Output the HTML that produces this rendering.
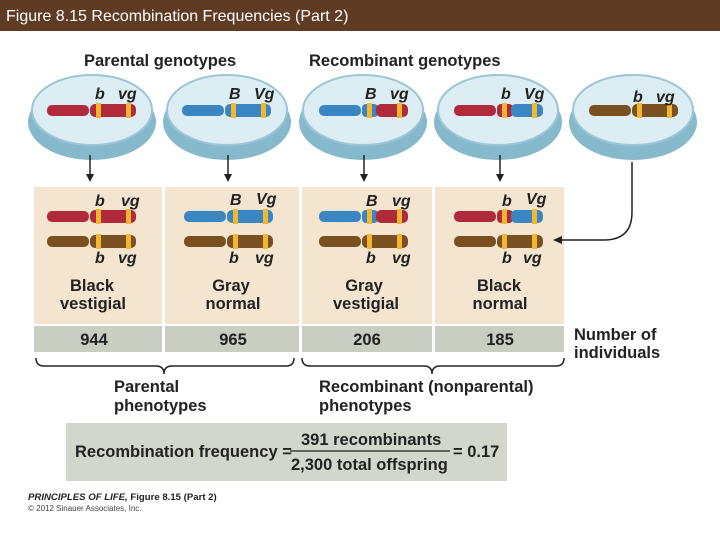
<!DOCTYPE html>
<html><head><meta charset="utf-8"><style>
html,body{margin:0;padding:0;background:#fff}
svg{display:block;font-family:"Liberation Sans",Arial,sans-serif}
</style></head><body>
<svg width="720" height="540" viewBox="0 0 720 540" xmlns="http://www.w3.org/2000/svg">
<rect x="0" y="0" width="720" height="31" fill="#5e3b22"/>
<text x="6" y="21" font-size="16" fill="#fff">Figure 8.15  Recombination Frequencies (Part 2)</text>
<g font-weight="bold" font-size="16.5" fill="#222">
<text x="84" y="66">Parental genotypes</text>
<text x="309" y="66">Recombinant genotypes</text>
</g>
<defs>
<g id="dish">
<ellipse cx="0" cy="12" rx="64" ry="38" fill="#86b9cc"/>
<ellipse cx="0" cy="0" rx="60" ry="35" fill="#dcedf3" stroke="#9cc6d6" stroke-width="2"/>
</g>
</defs>
<use href="#dish" x="92" y="110"/>
<use href="#dish" x="227" y="110"/>
<use href="#dish" x="363" y="110"/>
<use href="#dish" x="498" y="110"/>
<use href="#dish" x="633" y="110"/>
<g fill="#f3e5d0">
<rect x="34" y="187" width="128" height="137"/>
<rect x="165" y="187" width="134" height="137"/>
<rect x="302" y="187" width="130" height="137"/>
<rect x="435" y="187" width="129" height="137"/>
</g>
<g fill="#cacdc2">
<rect x="34" y="326" width="128" height="26"/>
<rect x="165" y="326" width="134" height="26"/>
<rect x="302" y="326" width="130" height="26"/>
<rect x="435" y="326" width="129" height="26"/>
</g>
<g>
<rect x="47" y="105" width="42" height="11" rx="5" fill="#b02a3c"/><rect x="90" y="104" width="46" height="13" rx="5" fill="#b02a3c"/>
<rect x="182" y="105" width="42" height="11" rx="5" fill="#3a86c2"/><rect x="225" y="104" width="46" height="13" rx="5" fill="#3a86c2"/>
<rect x="319" y="105" width="42" height="11" rx="5" fill="#3a86c2"/><rect x="362" y="104" width="16" height="13" rx="4" fill="#3a86c2"/><rect x="376" y="104" width="32" height="13" rx="5" fill="#b02a3c"/>
<rect x="454" y="105" width="42" height="11" rx="5" fill="#b02a3c"/><rect x="497" y="104" width="16" height="13" rx="4" fill="#b02a3c"/><rect x="511" y="104" width="32" height="13" rx="5" fill="#3a86c2"/>
<rect x="589" y="105" width="42" height="11" rx="5" fill="#7a5020"/><rect x="632" y="104" width="46" height="13" rx="5" fill="#7a5020"/>
<rect x="47" y="211" width="42" height="11" rx="5" fill="#b02a3c"/><rect x="90" y="210" width="46" height="13" rx="5" fill="#b02a3c"/>
<rect x="184" y="211" width="42" height="11" rx="5" fill="#3a86c2"/><rect x="227" y="210" width="46" height="13" rx="5" fill="#3a86c2"/>
<rect x="319" y="211" width="42" height="11" rx="5" fill="#3a86c2"/><rect x="362" y="210" width="16" height="13" rx="4" fill="#3a86c2"/><rect x="376" y="210" width="32" height="13" rx="5" fill="#b02a3c"/>
<rect x="454" y="211" width="42" height="11" rx="5" fill="#b02a3c"/><rect x="497" y="210" width="16" height="13" rx="4" fill="#b02a3c"/><rect x="511" y="210" width="32" height="13" rx="5" fill="#3a86c2"/>
<rect x="47" y="236" width="42" height="11" rx="5" fill="#7a5020"/><rect x="90" y="235" width="46" height="13" rx="5" fill="#7a5020"/>
<rect x="184" y="236" width="42" height="11" rx="5" fill="#7a5020"/><rect x="227" y="235" width="46" height="13" rx="5" fill="#7a5020"/>
<rect x="319" y="236" width="42" height="11" rx="5" fill="#7a5020"/><rect x="362" y="235" width="46" height="13" rx="5" fill="#7a5020"/>
<rect x="454" y="236" width="42" height="11" rx="5" fill="#7a5020"/><rect x="497" y="235" width="46" height="13" rx="5" fill="#7a5020"/>
</g>
<g fill="#f2b630">
<rect x="96" y="103" width="5" height="15"/><rect x="126" y="103" width="5" height="15"/>
<rect x="231" y="103" width="5" height="15"/><rect x="261" y="103" width="5" height="15"/>
<rect x="367" y="103" width="5" height="15"/><rect x="397" y="103" width="5" height="15"/>
<rect x="502" y="103" width="5" height="15"/><rect x="532" y="103" width="5" height="15"/>
<rect x="637" y="103" width="5" height="15"/><rect x="667" y="103" width="5" height="15"/>
<rect x="96" y="209" width="5" height="15"/><rect x="126" y="209" width="5" height="15"/>
<rect x="233" y="209" width="5" height="15"/><rect x="263" y="209" width="5" height="15"/>
<rect x="367" y="209" width="5" height="15"/><rect x="397" y="209" width="5" height="15"/>
<rect x="502" y="209" width="5" height="15"/><rect x="532" y="209" width="5" height="15"/>
<rect x="96" y="234" width="5" height="15"/><rect x="126" y="234" width="5" height="15"/>
<rect x="233" y="234" width="5" height="15"/><rect x="263" y="234" width="5" height="15"/>
<rect x="367" y="234" width="5" height="15"/><rect x="397" y="234" width="5" height="15"/>
<rect x="502" y="234" width="5" height="15"/><rect x="532" y="234" width="5" height="15"/>
</g>
<g font-weight="bold" font-style="italic" font-size="16" fill="#222">
<text x="95" y="99">b</text><text x="118" y="99">vg</text>
<text x="229" y="99">B</text><text x="254" y="99">Vg</text>
<text x="365" y="99">B</text><text x="390" y="99">vg</text>
<text x="501" y="99">b</text><text x="524" y="99">Vg</text>
<text x="633" y="102">b</text><text x="656" y="102">vg</text>
<text x="95" y="206">b</text><text x="121" y="206">vg</text>
<text x="230" y="205">B</text><text x="256" y="204">Vg</text>
<text x="366" y="206">B</text><text x="392" y="206">vg</text>
<text x="502" y="206">b</text><text x="526" y="204">Vg</text>
<text x="95" y="263">b</text><text x="118" y="263">vg</text>
<text x="229" y="263">b</text><text x="255" y="263">vg</text>
<text x="366" y="263">b</text><text x="392" y="263">vg</text>
<text x="502" y="263">b</text><text x="523" y="263">vg</text>
</g>
<g stroke="#222" stroke-width="1.5" fill="none">
<line x1="90" y1="155" x2="90" y2="176"/>
<line x1="228" y1="155" x2="228" y2="176"/>
<line x1="364" y1="155" x2="364" y2="176"/>
<line x1="500" y1="155" x2="500" y2="176"/>
<path d="M632 162 V212 Q632 240 604 240 H560"/>
</g>
<g fill="#222">
<path d="M86 174 L94 174 L90 182Z"/><path d="M224 174 L232 174 L228 182Z"/>
<path d="M360 174 L368 174 L364 182Z"/><path d="M496 174 L504 174 L500 182Z"/>
<path d="M553 240 L562 236 L562 244Z"/>
</g>
<g font-weight="bold" font-size="16.5" fill="#222" text-anchor="middle">
<text x="92" y="291">Black</text><text x="93" y="309">vestigial</text>
<text x="231" y="291">Gray</text><text x="233" y="309">normal</text>
<text x="364" y="291">Gray</text><text x="366" y="309">vestigial</text>
<text x="499" y="291">Black</text><text x="500" y="309">normal</text>
<text x="94" y="345">944</text><text x="233" y="345">965</text>
<text x="367" y="345">206</text><text x="500" y="345">185</text>
</g>
<g font-weight="bold" font-size="16.5" fill="#222">
<text x="574" y="340">Number of</text><text x="574" y="358">individuals</text>
<text x="114" y="392">Parental</text><text x="114" y="411">phenotypes</text>
<text x="319" y="392">Recombinant (nonparental)</text><text x="319" y="411">phenotypes</text>
</g>
<g stroke="#222" stroke-width="1.5" fill="none">
<path d="M36 358 Q36 366 44 366 H156 Q164 366 164 374 Q164 366 172 366 H286 Q294 366 294 358"/>
<path d="M302 358 Q302 366 310 366 H424 Q432 366 432 374 Q432 366 440 366 H556 Q564 366 564 358"/>
</g>
<rect x="66" y="423" width="441" height="58" fill="#d3d6cc"/>
<g font-weight="bold" font-size="16.5" fill="#222">
<text x="75" y="457">Recombination frequency =</text>
<text x="301" y="445">391 recombinants</text>
<text x="291" y="470">2,300 total offspring</text>
<text x="453" y="457">= 0.17</text>
</g>
<line x1="290" y1="451" x2="450" y2="451" stroke="#222" stroke-width="1.2"/>
<text x="28" y="500" font-size="9.6" font-weight="bold" font-style="italic" fill="#222">PRINCIPLES OF LIFE, <tspan font-style="normal">Figure 8.15 (Part 2)</tspan></text>
<text x="28" y="511" font-size="8" fill="#444">© 2012 Sinauer Associates, Inc.</text>
</svg>
</body></html>
